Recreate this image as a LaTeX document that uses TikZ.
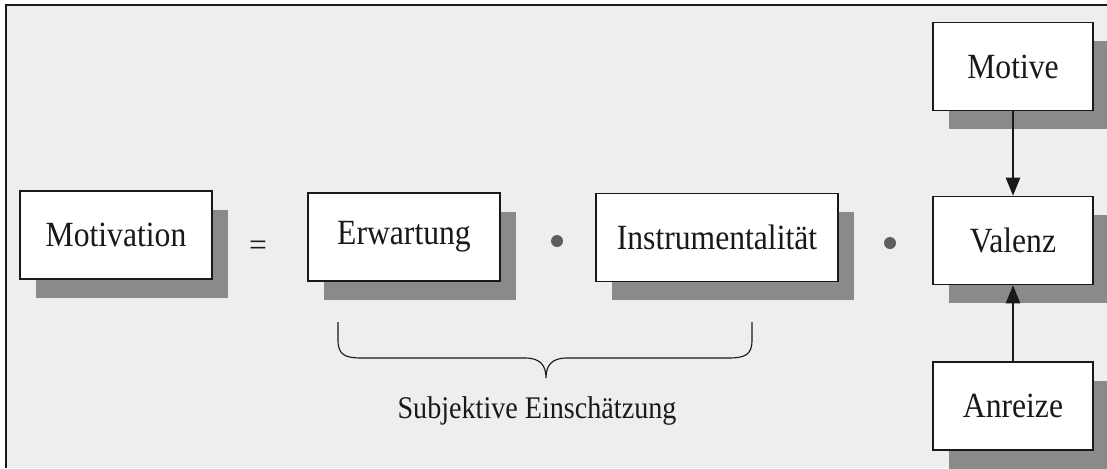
\documentclass[tikz,border=0pt]{standalone}
\usepackage{fontspec}
\setmainfont{Liberation Serif}
\usetikzlibrary{shadows,arrows.meta}

\definecolor{paper}{RGB}{236,238,240}
\definecolor{boxshade}{RGB}{138,138,138}
\definecolor{ink}{RGB}{25,25,25}

\def\boxfont{\fontsize{22.5}{27}\selectfont}
\def\tall#1{\scalebox{1}[1.12]{#1}}

\tikzset{
  factor/.style={draw=ink, line width=1.2pt, fill=white, minimum height=2.2cm,
    inner sep=0pt, font=\boxfont, text=ink,
    drop shadow={shadow xshift=0.4cm, shadow yshift=-0.47cm, fill=boxshade, opacity=1}},
  times/.style={circle, fill=ink!70, inner sep=0pt, minimum size=0.3cm},
  pull/.style={draw=ink, line width=0.8pt, -{Triangle[length=0.45cm,width=0.36cm]}}
}

\begin{document}
\begin{tikzpicture}[x=0.025cm,y=-0.025cm]
                    \useasboundingbox (0,0) rectangle (1107,468);
                    \fill[paper] (6,5) rectangle (1107,468);
                    \draw[ink, line width=1.4pt] (6,468) -- (6,5) -- (1107,5);

                    \node[factor, minimum width=4.8cm]  (motivation) at (116,235)   {\tall{Motivation}};
                    \node[font=\boxfont, text=ink]      (equals)     at (258,248)   {=};
                    \node[factor, minimum width=4.8cm]  (erwartung)  at (404,237)   {\tall{Erwartung}};
                    \node[times]                        (dotA)       at (557,241)   {};
                    \node[factor, minimum width=6.05cm] (instr)      at (717,237.5) {\tall{Instrumentalität}};
                    \node[times]                        (dotB)       at (890,243)   {};
                    \node[factor, minimum width=4cm]    (valenz)     at (1013,240.5) {\tall{Valenz}};
                    \node[factor, minimum width=4cm]    (motive)     at (1013,66.5) {\tall{Motive}};
                    \node[factor, minimum width=4cm]    (anreize)    at (1013,406)  {\tall{Anreize}};

                    \draw[pull] (motive.south) -- (valenz.north);
                    \draw[pull] (anreize.north) -- (valenz.south);

                    \draw[ink, line width=0.8pt] (338,322) -- (338,340)
                      .. controls (338,355) and (345,358) .. (362,358) -- (525,358)
                      .. controls (540,358) and (546,365) .. (546,378)
                      .. controls (546,365) and (552,358) .. (567,358) -- (728,358)
                      .. controls (745,358) and (752,355) .. (752,340) -- (752,322);
                    \node[font=\fontsize{20}{24}\selectfont, text=ink] (subj) at (537,411) {\tall{Subjektive Einschätzung}};
                  \end{tikzpicture}
\end{document}
